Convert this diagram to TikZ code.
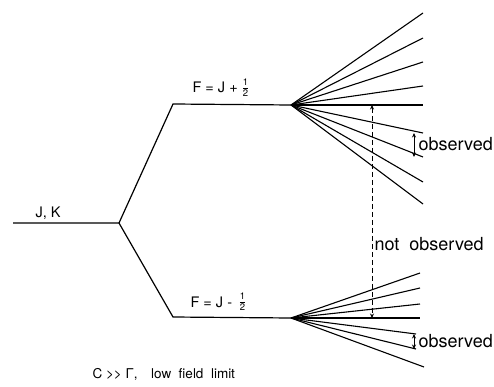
\documentclass[tikz,border=0pt]{standalone}
\usepackage{fontspec}
\setmainfont{TeX Gyre Heros}
\usetikzlibrary{arrows.meta}
\newcommand{\myhalf}{\raisebox{1.5pt}{$\frac{\mbox{\fontsize{9.5}{9.5}\selectfont 1}}{\mbox{\fontsize{9.5}{9.5}\selectfont 2}}$}}
\begin{document}
\begin{tikzpicture}[x=1pt,y=-1pt,line width=1.2pt,
  lbl/.style={inner sep=0pt,anchor=base west,font=\fontsize{14.5}{15}\selectfont},
  obs/.style={inner sep=0pt,anchor=base west,font=\fontsize{18}{18}\selectfont},
  note/.style={inner sep=0pt,anchor=base west,font=\fontsize{13.5}{13.5}\selectfont},
  fan/.style={line width=1.1pt},
  dbl/.style={{Stealth[length=4.5pt,width=4pt]}-{Stealth[length=4.5pt,width=4pt]},line width=1pt},
  dashdbl/.style={dbl,dash pattern=on 5pt off 3pt}]
\useasboundingbox (0,0) rectangle (494,387);
% levels
\coordinate (a0) at (13,223);
\coordinate (br) at (119,223);
\coordinate (u1) at (173,104);
\coordinate (uv) at (291,105);
\coordinate (l1) at (173,317);
\coordinate (lv) at (291,318);
\draw (a0) -- (br) -- (u1) -- (uv);
\draw (br) -- (l1) -- (lv);
% upper fan
\foreach \y [count=\i] in {13,38,62,86,105,133,157,182,204}
  \draw[fan] (uv) -- (423,\y) coordinate (ue\i);
% lower fan
\foreach \x/\y [count=\i] in {420/273,420/288,420/304,420/318,416/334,416/349,424/367}
  \draw[fan] (lv) -- (\x,\y) coordinate (le\i);
% observed arrows
\coordinate (oa1) at (414,133);
\coordinate (ob1) at (414,157);
\draw[dbl] (oa1) -- (ob1);
\coordinate (oa2) at (414,334);
\coordinate (ob2) at (414,349);
\draw[dbl] (oa2) -- (ob2);
% not observed arrow
\coordinate (dt) at (372,105);
\coordinate (db) at (372,318);
\draw[dashdbl] (dt) -- (db);
% labels
\node[lbl] (jk) at (35,217) {J, K};
\node[lbl] (fp) at (192,93) {F = J + \myhalf};
\node[lbl] (fm) at (190,307) {F = J -\, \myhalf};
\node[obs] (o1) at (418,151) {observed};
\node[obs] (o2) at (418,347) {observed};
\node[obs] (no) at (374,250) {not\ \ observed};
\node[note] (cap) at (92,378) {C {>}{>} Γ,\quad low\ \ field\ \ limit};
\end{tikzpicture}
\end{document}
